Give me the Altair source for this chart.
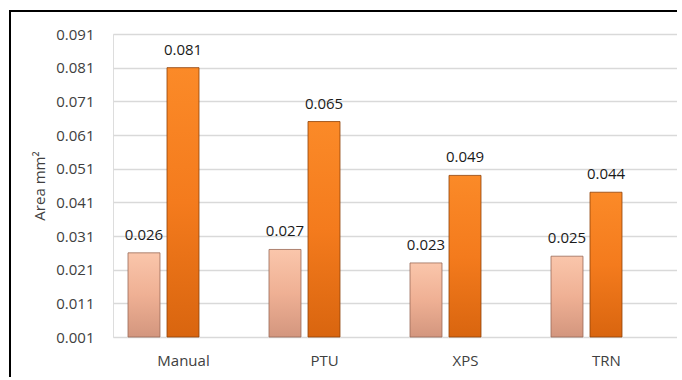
import altair as alt
import pandas as pd

categories = ["Manual", "PTU", "XPS", "TRN"]
series = ["S1", "S2"]
values_s1 = [0.026, 0.027, 0.023, 0.025]
values_s2 = [0.081, 0.065, 0.049, 0.044]
y_ticks = [0.001, 0.011, 0.021, 0.031, 0.041, 0.051, 0.061, 0.071, 0.081, 0.091]
baseline = 0.001

rows = []
for c, a, b in zip(categories, values_s1, values_s2):
    rows.append({"cat": c, "series": "S1", "value": a, "base": baseline, "label": f"{a:.3f}"})
    rows.append({"cat": c, "series": "S2", "value": b, "base": baseline, "label": f"{b:.3f}"})
df = pd.DataFrame(rows)

FONT = "Open Sans"
TXT = "#404040"
FS = 15

x_enc = alt.X("cat:N", sort=categories,
              scale=alt.Scale(paddingInner=0, paddingOuter=0),
              axis=alt.Axis(title=None, labelFont=FONT, labelFontSize=FS, labelColor=TXT,
                            labelAngle=0, ticks=False, domain=False, labelPadding=16))
xoff = alt.XOffset("series:N", scale=alt.Scale(domain=series, range=[15, 86], paddingInner=0.18, paddingOuter=0))
y_scale = alt.Scale(domain=[0.001, 0.091], nice=False, zero=False)
y_axis = alt.Axis(values=y_ticks, format=".3f", title="Area mm²", titleFont=FONT,
                  titleFontSize=FS, titleFontWeight="normal", titleColor=TXT, titlePadding=8,
                  labelFont=FONT, labelFontSize=FS, labelColor=TXT, labelPadding=19,
                  labelOverlap=False, labelBound=False,
                  ticks=False, domain=False, grid=True, gridColor="#d9d9d9", gridWidth=1.5)

grad_light = {"gradient": "linear", "x1": 0, "x2": 0, "y1": 0, "y2": 1,
              "stops": [{"offset": 0, "color": "#fac6ab"},
                        {"offset": 0.5, "color": "#efb094"},
                        {"offset": 1, "color": "#d3967e"}]}
grad_orange = {"gradient": "linear", "x1": 0, "x2": 0, "y1": 0, "y2": 1,
               "stops": [{"offset": 0, "color": "#fb8a28"},
                         {"offset": 0.5, "color": "#f47b1d"},
                         {"offset": 1, "color": "#d9650f"}]}

base = alt.Chart(df)

bars_light = base.transform_filter(alt.datum.series == "S1").mark_bar(
    fill=grad_light, stroke="#9a6a58", strokeWidth=1, strokeOpacity=0.8
).encode(
    x=x_enc, xOffset=xoff,
    y=alt.Y("value:Q", scale=y_scale, axis=y_axis),
    y2="base:Q",
)

bars_orange = base.transform_filter(alt.datum.series == "S2").mark_bar(
    fill=grad_orange, stroke="#8f4108", strokeWidth=1, strokeOpacity=0.8
).encode(
    x=x_enc, xOffset=xoff,
    y=alt.Y("value:Q", scale=y_scale, axis=y_axis),
    y2="base:Q",
)

labels = base.mark_text(font=FONT, fontSize=FS, color="#1a1a1a", baseline="alphabetic", dy=-13).encode(
    x=x_enc, xOffset=xoff,
    y=alt.Y("value:Q", scale=y_scale, axis=y_axis),
    text="label:N",
)

border = alt.Chart(pd.DataFrame({"a": [0]})).mark_rect(
    fill=None, stroke="#000000", strokeWidth=2, clip=False
).encode(x=alt.value(-103), x2=alt.value(575), y=alt.value(-23), y2=alt.value(350))

chart = alt.layer(bars_light, bars_orange, labels, border).properties(
    width=564, height=303,
    autosize=alt.AutoSizeParams(type="none"),
    padding={"left": 113, "top": 34, "right": 0, "bottom": 40},
).configure_view(stroke=None).configure_axisY(labelOverlap=False).configure(background="white")

chart.save("out.html", embed_options={"renderer": "svg", "actions": False})
